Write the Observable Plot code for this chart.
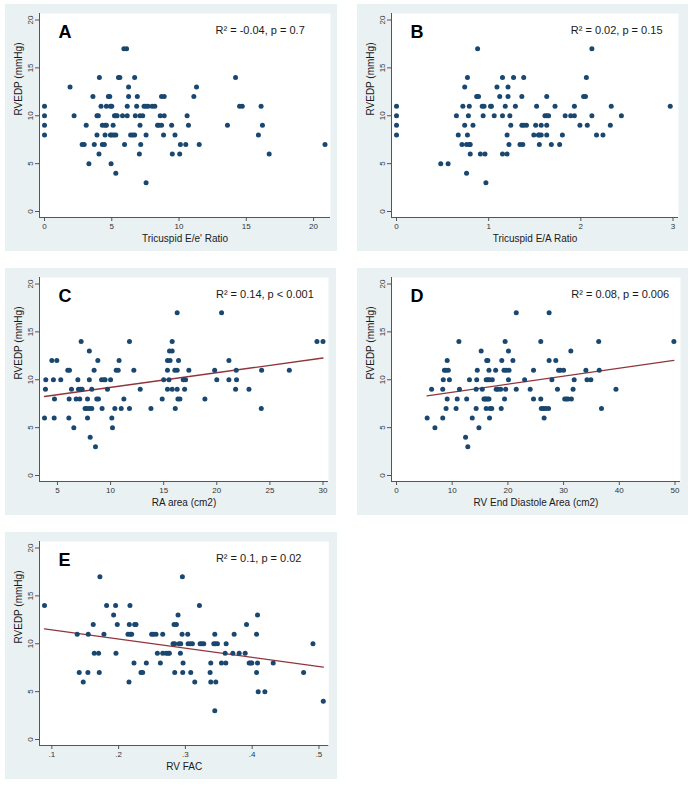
<!DOCTYPE html>
<html>
<head>
<meta charset="utf-8">
<script src="https://cdn.jsdelivr.net/npm/d3@7"></script>
<script src="https://cdn.jsdelivr.net/npm/@observablehq/plot@0.6"></script>
<style>
  html, body { margin: 0; padding: 0; background: #ffffff; }
  #root { position: relative; width: 693px; height: 785px; overflow: hidden; background: #ffffff; }
  .panel { position: absolute; }
  .panel svg { display: block; max-width: none; }
</style>
</head>
<body>
<div id="root"></div>
<script>
// ---- Data: RVEDP (mmHg) level -> x values ----
const rowsA = [ // Tricuspid E/e' Ratio
  [17, [5.9, 6.1]],
  [14, [4.08, 5.5, 5.6, 6.7, 14.2]],
  [13, [1.9, 6.25, 11.3]],
  [12, [3.6, 4.75, 4.85, 6.25, 6.9, 8.7, 8.9, 11.1]],
  [11, [0, 4.2, 4.6, 4.9, 5.0, 6.15, 6.85, 7.4, 7.55, 7.7, 8.0, 8.2, 14.5, 14.7, 16.1]],
  [10, [0, 2.2, 3.9, 4.0, 5.2, 5.3, 5.4, 5.8, 6.15, 6.75, 7.1, 7.3, 8.6, 8.9, 10.6]],
  [9,  [0, 3.1, 4.3, 4.5, 4.6, 5.1, 7.1, 8.4, 8.5, 8.7, 9.45, 10.7, 13.6, 16.2]],
  [8,  [0, 3.9, 4.5, 4.9, 5.0, 5.15, 5.3, 6.4, 6.55, 6.7, 7.55, 8.85, 9.7, 15.9]],
  [7,  [2.8, 2.95, 3.7, 4.3, 4.45, 5.95, 7.15, 10.1, 10.5, 11.5, 20.85]],
  [6,  [4.05, 7.05, 9.5, 10.05, 16.7]],
  [5,  [3.3, 4.95]],
  [4,  [5.3]],
  [3,  [7.55]]
];
const rowsB = [ // Tricuspid E/A Ratio
  [17, [0.88, 2.12]],
  [14, [0.77, 1.15, 1.27, 1.38, 2.06]],
  [13, [0.74, 1.09, 1.21]],
  [12, [0.87, 0.89, 1.12, 1.21, 1.36, 1.63, 2.03, 2.05]],
  [11, [0, 0.72, 0.79, 0.93, 0.95, 1.02, 1.03, 1.18, 1.29, 1.52, 1.72, 1.93, 2.33, 2.97]],
  [10, [0, 0.65, 0.78, 0.94, 1.06, 1.15, 1.23, 1.61, 1.63, 1.65, 1.83, 1.89, 1.93, 2.12, 2.44]],
  [9,  [0, 0.74, 0.83, 1.24, 1.36, 1.38, 1.41, 1.51, 1.57, 1.63, 1.99, 2.07, 2.32]],
  [8,  [0, 0.67, 0.77, 1.20, 1.49, 1.54, 1.55, 1.57, 1.63, 1.80, 2.17, 2.24]],
  [7,  [0.71, 0.76, 0.79, 0.80, 1.22, 1.34, 1.37, 1.55, 1.68, 1.77]],
  [6,  [0.80, 0.91, 0.96, 1.15, 1.20]],
  [5,  [0.48, 0.56]],
  [4,  [0.76]],
  [3,  [0.97]]
];
const rowsC = [ // RA area (cm2)
  [17, [16.27, 20.45]],
  [14, [7.23, 11.78, 15.8, 29.43, 30.0]],
  [13, [8.0, 15.55, 15.8]],
  [12, [4.47, 4.94, 8.8, 10.8, 15.36, 15.6, 16.4, 21.14]],
  [11, [5.97, 6.13, 8.45, 10.53, 10.72, 12.19, 15.36, 16.05, 16.27, 17.37, 19.8, 21.83, 24.22, 26.83]],
  [10, [3.9, 4.62, 5.31, 6.92, 8.0, 9.15, 9.37, 9.49, 10.0, 15.0, 15.5, 16.84, 17.06, 20.0, 21.14, 21.86]],
  [9,  [3.87, 6.32, 6.98, 7.17, 7.32, 8.23, 9.71, 12.79, 15.36, 15.8, 16.27, 16.97, 21.77, 23.03]],
  [8,  [4.72, 6.1, 6.76, 7.1, 7.83, 8.7, 8.86, 11.25, 14.86, 16.34, 16.53, 18.88]],
  [7,  [7.6, 7.76, 8.0, 8.23, 9.2, 10.4, 11.0, 11.78, 13.8, 16.09, 24.19]],
  [6,  [3.78, 4.69, 6.07, 7.83, 10.12]],
  [5,  [6.54, 10.18]],
  [4,  [8.08]],
  [3,  [8.58]]
];
const rowsD = [ // RV End Diastole Area (cm2)
  [17, [21.5, 27.4]],
  [14, [11.2, 19.5, 25.9, 36.3, 49.8]],
  [13, [15.2, 20.1, 31.3]],
  [12, [9.1, 16.2, 16.4, 18.9, 20.9, 27.4, 28.6]],
  [11, [8.6, 8.9, 9.3, 14.5, 16.6, 17.8, 19.3, 19.7, 20.2, 24.6, 29.1, 29.4, 30.0, 34.0, 36.4]],
  [10, [8.4, 9.5, 13.1, 14.4, 16.1, 16.4, 16.7, 17.2, 20.1, 23.0, 27.9, 31.9, 34.2, 34.9]],
  [9,  [6.3, 8.3, 11.3, 14.3, 15.4, 17.9, 18.2, 18.7, 19.6, 21.5, 24.0, 28.9, 31.7, 39.4]],
  [8,  [9.1, 10.9, 12.6, 15.7, 15.9, 16.1, 16.4, 16.6, 19.4, 24.6, 25.9, 30.2, 30.5, 30.8, 31.4]],
  [7,  [8.9, 10.7, 14.3, 16.1, 16.8, 17.1, 18.8, 26.0, 26.4, 26.8, 27.3, 36.8]],
  [6,  [5.5, 8.3, 13.6, 16.7, 26.5]],
  [5,  [6.9, 14.8]],
  [4,  [12.4]],
  [3,  [12.8]]
];
const rowsE = [ // RV FAC
  [17, [0.172, 0.2955]],
  [14, [0.089, 0.182, 0.1955, 0.217, 0.321]],
  [13, [0.1925, 0.289, 0.408]],
  [12, [0.162, 0.198, 0.216, 0.224, 0.226, 0.283, 0.2865, 0.3915]],
  [11, [0.138, 0.1545, 0.178, 0.214, 0.2175, 0.2195, 0.2495, 0.252, 0.256, 0.266, 0.295, 0.3035, 0.344, 0.373, 0.4065]],
  [10, [0.2815, 0.284, 0.2905, 0.293, 0.304, 0.3075, 0.3105, 0.322, 0.3245, 0.3275, 0.3425, 0.345, 0.348, 0.361, 0.491]],
  [9,  [0.1635, 0.17, 0.196, 0.258, 0.266, 0.271, 0.274, 0.276, 0.2925, 0.3595, 0.371, 0.3805, 0.3895]],
  [8,  [0.223, 0.2415, 0.2625, 0.2965, 0.338, 0.354, 0.3605, 0.3955, 0.3975, 0.3995, 0.408, 0.4315]],
  [7,  [0.141, 0.154, 0.171, 0.2335, 0.236, 0.284, 0.296, 0.308, 0.337, 0.4065, 0.477]],
  [6,  [0.147, 0.2155, 0.314, 0.338, 0.3455]],
  [5,  [0.409, 0.419]],
  [4,  [0.5065]],
  [3,  [0.344]]
];

// Fitted lines (end points)
const fitC = [[3.78, 8.25], [30.0, 12.27]];
const fitD = [[5.5, 8.32], [49.8, 12.03]];
const fitE = [[0.089, 11.55], [0.5065, 7.55]];

// Ticks and labels
const yTicks = [0, 5, 10, 15, 20];
const xTicksA = [0, 5, 10, 15, 20];
const xTicksB = [0, 1, 2, 3];
const xTicksC = [5, 10, 15, 20, 25, 30];
const xTicksD = [0, 10, 20, 30, 40, 50];
const xTicksE = [0.1, 0.2, 0.3, 0.4, 0.5];
const xLabelsE = [".1", ".2", ".3", ".4", ".5"];

const xTitles = ["Tricuspid E/e' Ratio", "Tricuspid E/A Ratio", "RA area (cm2)", "RV End Diastole Area (cm2)", "RV FAC"];
const letters = ["A", "B", "C", "D", "E"];
const stats = ["R\u00b2 = -0.04, p = 0.7", "R\u00b2 = 0.02, p = 0.15", "R\u00b2 = 0.14, p < 0.001", "R\u00b2 = 0.08, p = 0.006", "R\u00b2 = 0.1, p = 0.02"];
const yTitle = "RVEDP (mmHg)";

// ---- Styles ----
const BG = "#eaf1f3";
const DOT = "#1a476f";
const FIT = "#90353b";
const AXIS = "#555555";
const TEXT = "#1a1a1a";
const FONT = "'Liberation Sans', Arial, Helvetica, sans-serif";

const flatten = rows => rows.flatMap(([y, xs]) => xs.map(x => ({x, y})));

function panel({rows, fit, xDomain, xTicks, xLabels, xTitle, letter, stat, width, marginRight, statDx}) {
  const labelMap = new Map(xTicks.map((t, i) => [t, xLabels ? xLabels[i] : String(t)]));
  const insetL = 5, insetB = 6;
  return Plot.plot({
    width, height: 247,
    marginLeft: 34, marginRight, marginTop: 9, marginBottom: 34,
    style: {background: BG, fontFamily: FONT, color: TEXT},
    x: {domain: xDomain, insetLeft: insetL, insetRight: 5.5},
    y: {domain: [0, 20], insetTop: 6.5, insetBottom: insetB},
    marks: [
      Plot.frame({fill: "white", stroke: null}),
      fit ? Plot.line(fit.map(([x, y]) => ({x, y})), {x: "x", y: "y", stroke: FIT, strokeWidth: 1.3}) : null,
      Plot.dot(flatten(rows), {x: "x", y: "y", r: 2.5, fill: DOT, stroke: null}),
      Plot.ruleY([0], {dy: insetB, stroke: AXIS, strokeWidth: 1}),
      Plot.ruleX([xDomain[0]], {dx: -insetL, stroke: AXIS, strokeWidth: 1}),
      Plot.axisX({ticks: xTicks, tickFormat: d => labelMap.get(d), tickSize: 4, tickPadding: 2, fontSize: 8, label: null, stroke: AXIS, fill: "#333"}),
      Plot.axisY({ticks: yTicks, tickRotate: -90, tickSize: 4, tickPadding: 3, fontSize: 8, label: null, stroke: AXIS, fill: "#333"}),
      Plot.text([letter], {frameAnchor: "top-left", dx: 19, dy: 12, fontSize: 18, fontWeight: "bold", textAnchor: "start", lineAnchor: "top", fill: "#000"}),
      Plot.text([stat], {frameAnchor: "top-right", dx: statDx, dy: 13, fontSize: 11, textAnchor: "end", lineAnchor: "top", fill: TEXT}),
      Plot.text([xTitle], {frameAnchor: "bottom", dy: 17, fontSize: 10, lineAnchor: "top", fill: TEXT}),
      Plot.text([yTitle], {frameAnchor: "left", dx: -20.7, rotate: -90, fontSize: 10, fill: TEXT})
    ]
  });
}

const root = document.getElementById("root");
function place(svg, left, top) {
  const div = document.createElement("div");
  div.className = "panel";
  div.style.left = left + "px";
  div.style.top = top + "px";
  div.appendChild(svg);
  root.appendChild(div);
}

place(panel({rows: rowsA, fit: null, xDomain: [0, 20.85], xTicks: xTicksA, xTitle: xTitles[0], letter: letters[0], stat: stats[0], width: 332, marginRight: 7, statDx: -25.7}), 5, 4);
place(panel({rows: rowsB, fit: null, xDomain: [0, 3], xTicks: xTicksB, xTitle: xTitles[1], letter: letters[1], stat: stats[1], width: 331, marginRight: 10, statDx: -16}), 357, 4);
place(panel({rows: rowsC, fit: fitC, xDomain: [3.78, 30], xTicks: xTicksC, xTitle: xTitles[2], letter: letters[2], stat: stats[2], width: 331, marginRight: 8, statDx: -14.7}), 5, 268);
place(panel({rows: rowsD, fit: fitD, xDomain: [0, 50], xTicks: xTicksD, xTitle: xTitles[3], letter: letters[3], stat: stats[3], width: 331, marginRight: 8, statDx: -11.3}), 357, 268);
place(panel({rows: rowsE, fit: fitE, xDomain: [0.089, 0.5065], xTicks: xTicksE, xLabels: xLabelsE, xTitle: xTitles[4], letter: letters[4], stat: stats[4], width: 332, marginRight: 8.7, statDx: -27.3}), 5, 532);
</script>
</body>
</html>
